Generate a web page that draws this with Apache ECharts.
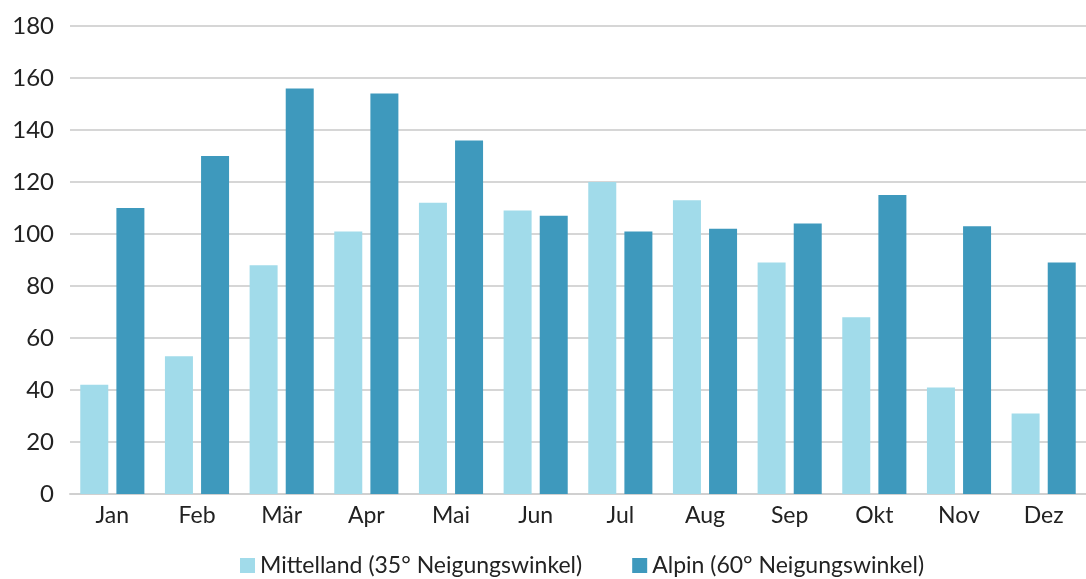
<!DOCTYPE html>
<html>
<head>
<meta charset="utf-8">
<script src="https://cdn.jsdelivr.net/npm/echarts@6/dist/echarts.min.js"></script>
<style>
html,body{margin:0;padding:0;background:#fff;}
#main{width:1086px;height:579px;}
</style>
</head>
<body>
<div id="main"></div>
<script>
var months = ['Jan','Feb','Mär','Apr','Mai','Jun','Jul','Aug','Sep','Okt','Nov','Dez'];
var mittelland = [42,53,88,101,112,109,120,113,89,68,41,31];
var alpin = [110,130,156,154,136,107,101,102,104,115,103,89];
var seriesNames = ['Mittelland (35° Neigungswinkel)','Alpin (60° Neigungswinkel)'];

var chart = echarts.init(document.getElementById('main'));
var font = 'Lato, "Open Sans", sans-serif';
var option = {
	animation: false,
	grid: {left: 70, right: 0, top: 26, bottom: 85},
	legend: {
		top: 549,
		left: 235,
		itemWidth: 15,
		itemHeight: 15,
		itemGap: 50,
		icon: 'rect',
		textStyle: {fontFamily: font, fontSize: 23, color: '#222'},
		data: seriesNames
	},
	xAxis: {
		type: 'category',
		data: months,
		axisTick: {show: false},
		axisLine: {lineStyle: {color: '#d0d0d0', width: 2}},
		axisLabel: {fontFamily: font, fontSize: 23, color: '#222', margin: 10}
	},
	yAxis: {
		type: 'value',
		min: 0,
		max: 180,
		interval: 20,
		axisLabel: {fontFamily: font, fontSize: 24, color: '#222', margin: 16},
		splitLine: {lineStyle: {color: '#d6d6d6', width: 2}}
	},
	series: [
		{
			name: seriesNames[0],
			type: 'bar',
			data: mittelland,
			barWidth: 28,
			barGap: '29%',
			itemStyle: {color: '#a1dbea'}
		},
		{
			name: seriesNames[1],
			type: 'bar',
			data: alpin,
			barWidth: 28,
			barGap: '29%',
			itemStyle: {color: '#3e99bd'}
		}
	]
};
chart.setOption(option);
</script>
</body>
</html>
